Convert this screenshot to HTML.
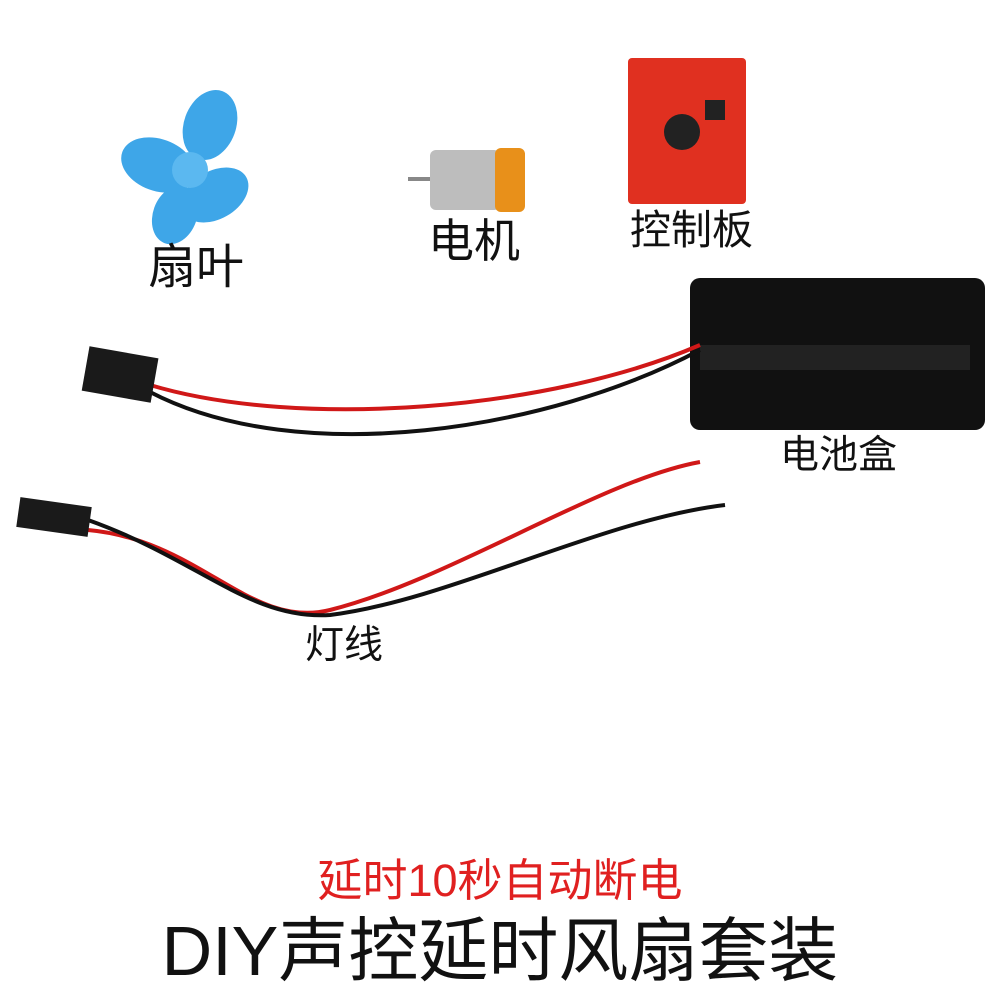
<!DOCTYPE html>
<html><head><meta charset="utf-8"><style>
html,body{margin:0;padding:0;background:#fff;width:1000px;height:1000px;overflow:hidden}
.t{position:absolute;font-family:"Liberation Sans","Noto Sans CJK SC",sans-serif;color:#111;white-space:nowrap;line-height:1}
</style></head><body>
<svg width="1000" height="1000" style="position:absolute;left:0;top:0">
<g fill="#3ea6e8">
<ellipse cx="158" cy="165" rx="38" ry="26" transform="rotate(20 158 165)"/>
<ellipse cx="210" cy="125" rx="26" ry="36" transform="rotate(20 210 125)"/>
<ellipse cx="215" cy="195" rx="36" ry="24" transform="rotate(-30 215 195)"/>
<ellipse cx="175" cy="215" rx="22" ry="30" transform="rotate(20 175 215)"/>
<circle cx="190" cy="170" r="18" fill="#5bb8f0"/>
</g>
<rect x="408" y="177" width="25" height="4" fill="#888"/>
<rect x="430" y="150" width="70" height="60" rx="6" fill="#bdbdbd"/>
<rect x="495" y="148" width="30" height="64" rx="6" fill="#e8901a"/>
<rect x="628" y="58" width="118" height="146" rx="4" fill="#e03020"/>
<circle cx="682" cy="132" r="18" fill="#222"/>
<rect x="705" y="100" width="20" height="20" fill="#222"/>
<rect x="690" y="278" width="295" height="152" rx="10" fill="#111"/>
<rect x="700" y="345" width="270" height="25" fill="#222"/>
<path d="M150 385 C300 430 550 410 700 345" stroke="#d01818" stroke-width="4" fill="none"/>
<path d="M150 392 C300 470 550 430 700 350" stroke="#111" stroke-width="4" fill="none"/>
<rect x="85" y="352" width="70" height="45" fill="#1a1a1a" transform="rotate(10 120 375)"/>
<path d="M88 530 C200 540 250 630 330 610 C450 580 600 480 700 462" stroke="#d01818" stroke-width="4" fill="none"/>
<path d="M88 520 C200 560 250 620 330 615 C450 600 600 520 725 505" stroke="#111" stroke-width="4" fill="none"/>
<rect x="18" y="502" width="72" height="30" fill="#1a1a1a" transform="rotate(8 54 517)"/>
</svg>
<div class="t" style="left:148px;top:244px;font-size:48px">扇叶</div>
<div class="t" style="left:428px;top:218px;font-size:46px">电机</div>
<div class="t" style="left:630px;top:210px;font-size:41px">控制板</div>
<div class="t" style="left:780px;top:436px;font-size:39px">电池盒</div>
<div class="t" style="left:305px;top:626px;font-size:39px">灯线</div>
<div class="t" style="left:0;width:1000px;text-align:center;top:858px;font-size:45px;color:#e02020">延时10秒自动断电</div>
<div class="t" style="left:0;width:1000px;text-align:center;top:916px;font-size:70px">DIY声控延时风扇套装</div>
</body></html>
